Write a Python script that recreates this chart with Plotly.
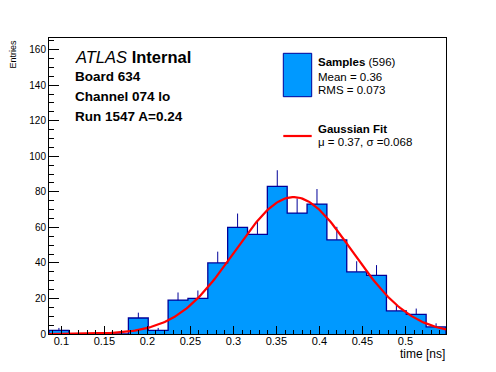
import numpy as np
import plotly.graph_objects as go

# ---------------- data ----------------
X_MIN = 0.0856
X_MAX = 0.5472
N_BINS = 20
BIN_COUNTS = [2, 0, 0, 0, 9, 2, 19, 20, 40, 60, 56, 83, 68, 73, 53, 35, 33, 13, 11, 4]
Y_MAX = 166.5

FIT_AMP = 77.0
FIT_MU = 0.37
FIT_SIGMA = 0.068

N_SAMPLES = 596
MEAN_TXT = "0.36"
RMS_TXT = "0.073"

LABEL_LINES = ["Board 634", "Channel 074 lo", "Run 1547 A=0.24"]

# ---------------- derived ----------------
bin_w = (X_MAX - X_MIN) / N_BINS
edges = [X_MIN + i * bin_w for i in range(N_BINS + 1)]
centers = [X_MIN + (i + 0.5) * bin_w for i in range(N_BINS)]
errs = [float(np.sqrt(c)) for c in BIN_COUNTS]

xs = np.linspace(X_MIN, X_MAX, 200)
fit_y = FIT_AMP * np.exp(-0.5 * ((xs - FIT_MU) / FIT_SIGMA) ** 2)

FILL = "#0099ff"
EDGE = "#000099"
FONT = "Liberation Sans, Arial, Helvetica, sans-serif"

fig = go.Figure()
fig.add_trace(go.Bar(x=centers, y=BIN_COUNTS, width=bin_w,
                     marker=dict(color=FILL, line=dict(width=0)),
                     showlegend=False, hoverinfo="skip"))
fig.add_trace(go.Scatter(x=[edges[0]] + edges + [edges[-1]],
                         y=[0] + BIN_COUNTS + [BIN_COUNTS[-1], 0],
                         mode="lines", line=dict(color=EDGE, width=1.3, shape="hv"),
                         showlegend=False, hoverinfo="skip"))
fig.add_trace(go.Scatter(x=centers, y=BIN_COUNTS, mode="markers",
                         marker=dict(size=1, opacity=0),
                         error_y=dict(type="data", symmetric=False, array=errs,
                                      arrayminus=[0] * N_BINS, color=EDGE,
                                      thickness=1, width=0),
                         showlegend=False, hoverinfo="skip"))
fig.add_trace(go.Scatter(x=xs, y=fit_y, mode="lines",
                         line=dict(color="#ff0000", width=2.2),
                         showlegend=False, hoverinfo="skip"))

L, R, T, B = 49, 50, 38, 38
W, H = 496, 372
pw, ph = W - L - R, H - T - B


def px(xp):
    return (xp - L) / pw


def py(yp):
    return (H - B - yp) / ph


ann = []
ann.append(dict(text="<i>ATLAS</i> <b>Internal</b>", x=px(74), y=py(56.7),
                font=dict(size=16.5)))
for i, t in enumerate(LABEL_LINES):
    ann.append(dict(text="<b>%s</b>" % t, x=px(74), y=py(76.7 + 19.7 * i),
                    font=dict(size=13.5)))
leg_x = px(317)
ann.append(dict(text="<b>Samples</b> (%d)" % N_SAMPLES, x=leg_x, y=py(61.7), font=dict(size=11.5)))
ann.append(dict(text="Mean = %s" % MEAN_TXT, x=leg_x, y=py(76.7), font=dict(size=11.5)))
ann.append(dict(text="RMS = %s" % RMS_TXT, x=leg_x, y=py(90), font=dict(size=11.5)))
ann.append(dict(text="<b>Gaussian Fit</b>", x=leg_x, y=py(129.3), font=dict(size=11.5)))
ann.append(dict(text="\u03bc = %.2f, \u03c3 =%.3f" % (FIT_MU, FIT_SIGMA), x=leg_x, y=py(141.7),
                font=dict(size=11.5)))
for a in ann:
    a.update(xref="paper", yref="paper", xanchor="left", yanchor="middle",
             showarrow=False, borderpad=0)
ann.append(dict(text="time [ns]", x=1.0, y=py(354), xref="paper", yref="paper",
                xanchor="right", yanchor="middle", showarrow=False,
                font=dict(size=12), borderpad=0))
ann.append(dict(text="Entries", x=px(13), y=py(54.5), xref="paper", yref="paper",
                xanchor="center", yanchor="middle", showarrow=False, textangle=-90,
                font=dict(size=9), borderpad=0))

shapes = [
    dict(type="rect", xref="paper", yref="paper", x0=px(283.3), x1=px(311.7),
         y0=py(96.7), y1=py(53.3), fillcolor=FILL, line=dict(color=EDGE, width=1)),
    dict(type="line", xref="paper", yref="paper", x0=px(283.3), x1=px(311.7),
         y0=py(136), y1=py(136), line=dict(color="#ff0000", width=2.2)),
]

fig.update_layout(
    width=W, height=H,
    margin=dict(l=L, r=R, t=T, b=B),
    paper_bgcolor="white", plot_bgcolor="white",
    font=dict(family=FONT, color="black"),
    bargap=0,
    annotations=ann, shapes=shapes,
    xaxis=dict(range=[X_MIN, X_MAX], tick0=0, dtick=0.05, ticks="inside", ticklen=8,
               tickwidth=1, tickcolor="black", showline=True, linecolor="black",
               linewidth=1, mirror=True, showgrid=False, zeroline=False,
               tickfont=dict(size=11), ticklabelstandoff=-3,
               minor=dict(dtick=0.01, tick0=0, ticks="inside", ticklen=4,
                          tickcolor="black", showgrid=False)),
    yaxis=dict(range=[0, Y_MAX], tick0=0, dtick=20, ticks="inside", ticklen=10,
               tickwidth=1, tickcolor="black", showline=True, linecolor="black",
               linewidth=1, mirror=True, showgrid=False, zeroline=False,
               tickfont=dict(size=10),
               minor=dict(dtick=5, tick0=0, ticks="inside", ticklen=5,
                          tickcolor="black", showgrid=False)),
)

fig.write_html("out.html", config={"displayModeBar": False},
               post_script="document.body.style.margin='0';document.body.style.padding='0';")
